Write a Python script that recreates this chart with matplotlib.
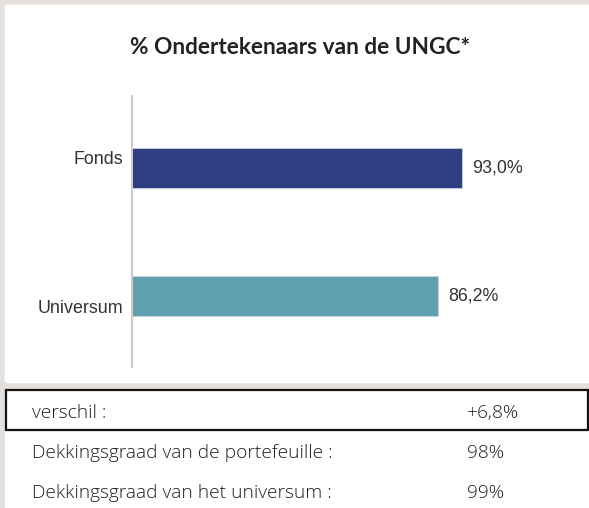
import matplotlib
matplotlib.use("Agg")
import matplotlib.pyplot as plt
from matplotlib.patches import FancyBboxPatch, Rectangle
import matplotlib.transforms as mtransforms

# ---- data ----
categories = ["Fonds", "Universum"]
values = [93.0, 86.2]
bar_colors = ["#2f3e80", "#5fa1ae"]
title = "% Ondertekenaars van de UNGC*"
table_labels = ["verschil :", "Dekkingsgraad van de portefeuille :", "Dekkingsgraad van het universum :"]
table_values = ["+6,8%", "98%", "99%"]

W, H, DPI = 589, 508, 100
fig = plt.figure(figsize=(W / DPI, H / DPI), dpi=DPI)
fig.patch.set_facecolor("#e5e0dc")

# background overlay axes in pixel coordinates
bg = fig.add_axes([0, 0, 1, 1], zorder=0)
bg.set_xlim(0, W)
bg.set_ylim(H, 0)
bg.axis("off")

card = FancyBboxPatch((4.5, 4.5), W - 4.5 + 10, 383.3 - 4.5, boxstyle="round,pad=0,rounding_size=4",
                      facecolor="white", edgecolor="none")
bg.add_patch(card)

# table rows
bg.add_patch(Rectangle((5, 430), W, 80, facecolor="white", edgecolor="none"))
bg.add_patch(Rectangle((6, 390), W - 7, 40, facecolor="white", edgecolor="#111111", linewidth=1.6))

bg.text(300, 54.3, title, ha="center", va="baseline", fontsize=16.3, fontweight="bold",
        family=["Lato", "DejaVu Sans"], color="#222222")

baselines = [418.3, 458.3, 498.3]
for lab, val, yb in zip(table_labels, table_values, baselines):
    bg.text(31.5, yb, lab, ha="left", va="baseline", fontsize=13.8, fontweight="light",
            family=["Open Sans", "DejaVu Sans"], color="#1e1e1e")
    bg.text(466.7, yb, val, ha="left", va="baseline", fontsize=13.8, fontweight="light",
            family=["Open Sans", "DejaVu Sans"], color="#1e1e1e")

# chart axes
left_px, right_px, top_px, bot_px = 131.7, 486.6, 96.0, 366.7
ax = fig.add_axes([left_px / W, (H - bot_px) / H, (right_px - left_px) / W, (bot_px - top_px) / H], zorder=2)
ax.set_facecolor("none")
ypos = list(range(len(categories)))
ax.barh(ypos, values, height=0.314, color=bar_colors, edgecolor="#c9d3e6", linewidth=0.6, zorder=2)
ax.set_xlim(0, 100)
ax.set_ylim(1.551, -0.559)
for s in ["top", "right", "bottom"]:
    ax.spines[s].set_visible(False)
ax.spines["left"].set_color("#cccccc")
ax.spines["left"].set_linewidth(1.5)
ax.spines["left"].set_zorder(3)
ax.set_xticks([])
ax.set_yticks(ypos)
ax.set_yticklabels(categories, fontsize=12.9, family=["Liberation Sans", "DejaVu Sans"], color="#333333")
ax.tick_params(axis="y", length=0, pad=6.3)
offsets = [10.2, -10.7]
for lbl, off in zip(ax.get_yticklabels(), offsets):
    lbl.set_transform(lbl.get_transform() + mtransforms.ScaledTranslation(0, off / DPI, fig.dpi_scale_trans))

for i, v in enumerate(values):
    ax.annotate(f"{v:.1f}".replace(".", ",") + "%", xy=(v, i), xytext=(7.5, 0), textcoords="offset points",
                ha="left", va="center", fontsize=12.9, family=["Liberation Sans", "DejaVu Sans"],
                color="#333333", annotation_clip=False)

fig.savefig("out.png", dpi=DPI, facecolor=fig.get_facecolor())
